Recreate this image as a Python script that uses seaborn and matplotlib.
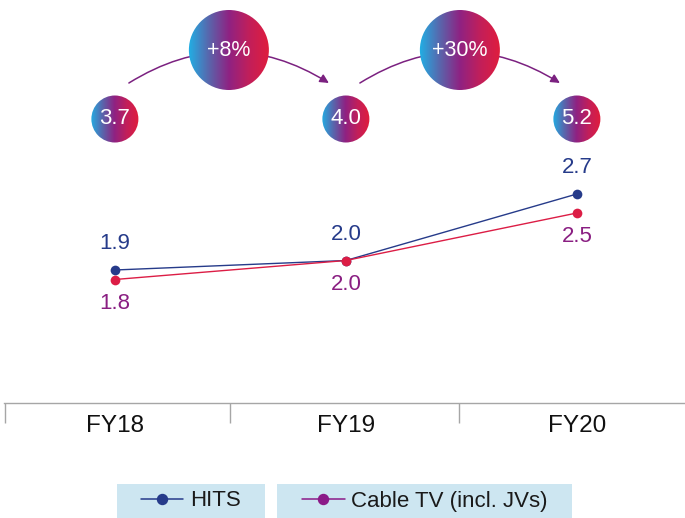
import matplotlib.pyplot as plt
import numpy as np
import pandas as pd
import seaborn as sns
from matplotlib.colors import LinearSegmentedColormap
from matplotlib.lines import Line2D
from matplotlib.patches import Circle, FancyArrowPatch, Rectangle

# values
years = ["FY18", "FY19", "FY20"]
hits = [1.9, 2.0, 2.7]
cable = [1.8, 2.0, 2.5]
totals = [3.7, 4.0, 5.2]
growth = ["+8%", "+30%"]

HITS_COLOR = "#263b8a"
CABLE_LINE = "#dc1d45"
CABLE_TEXT = "#8a1f82"
CABLE_LEGEND = "#8b1a88"
ARROW_COLOR = "#7b2180"
AXIS_GRAY = "#a6a6a6"

sns.set_style("white")
plt.rcParams["font.family"] = ["Liberation Sans", "DejaVu Sans"]

df = pd.DataFrame({
    "x": list(range(len(years))) * 2,
    "value": hits + cable,
    "series": ["HITS"] * len(years) + ["Cable TV (incl. JVs)"] * len(years),
})

W, H = 685, 518
fig = plt.figure(figsize=(W / 100, H / 100), dpi=100)
ax = fig.add_axes([4 / W, 115 / H, 681 / W, 403 / H])

sns.lineplot(data=df, x="x", y="value", hue="series",
             palette={"HITS": HITS_COLOR, "Cable TV (incl. JVs)": CABLE_LINE},
             marker="o", markersize=7, markeredgewidth=0, linewidth=1,
             legend=False, ax=ax)

ax.set_xlim(-0.48, -0.48 + 681 / 231)
ax.set_ylim(0.5, 0.5 + 403 / 95)

# category labels, separators between categories
ax.set_xticks(range(len(years)))
ax.set_xticklabels(years, fontsize=17.5, color="#111111")
ax.tick_params(axis="x", which="major", length=0, pad=9)
ax.set_xticks([-0.475, 0.5, 1.49], minor=True)
ax.tick_params(axis="x", which="minor", bottom=True, length=14.5, width=1,
               color=AXIS_GRAY, direction="out")
ax.set_yticks([])
ax.set_xlabel("")
ax.set_ylabel("")
for side in ["left", "right", "top"]:
    ax.spines[side].set_visible(False)
ax.spines["bottom"].set_color(AXIS_GRAY)
ax.spines["bottom"].set_linewidth(1)

for i, v in enumerate(hits):
    ax.annotate(f"{v:.1f}", (i, v), xytext=(0, 19), textcoords="offset points",
                ha="center", va="center", fontsize=16, color=HITS_COLOR)
for i, v in enumerate(cable):
    ax.annotate(f"{v:.1f}", (i, v), xytext=(0, -17), textcoords="offset points",
                ha="center", va="center", fontsize=16, color=CABLE_TEXT)

# overlay in pixel coordinates for the bubbles on top
ov = fig.add_axes([0, 0, 1, 1], zorder=3)
ov.axis("off")

cmap = LinearSegmentedColormap.from_list(
    "bubble", ["#1fb1e6", "#5867ad", "#8f2282", "#c21f5a", "#e11d3c"])
grad = np.tile(np.linspace(0, 1, 256), (64, 1))


def bubble(x, y, r, label, size):
    im = ov.imshow(grad, cmap=cmap, extent=[x - r - 1, x + r + 1, y + r + 1, y - r - 1],
                   aspect="auto", interpolation="bilinear", zorder=3)
    circ = Circle((x, y), r, transform=ov.transData, facecolor="none", edgecolor="none")
    ov.add_patch(circ)
    im.set_clip_path(circ)
    ov.text(x, y, label, ha="center", va="center", color="white", fontsize=size, zorder=4)


# bubble x positions follow the category positions of the line chart
cx = [ax.transData.transform((i, 0))[0] for i in range(len(years))]

for i, total in enumerate(totals):
    bubble(cx[i], 119, 23.5, f"{total:.1f}", 16)

for i in range(len(totals) - 1):
    x0, x1 = cx[i] + 14, cx[i + 1] - 17
    arr = FancyArrowPatch((x0, 83), (x1, 83), connectionstyle="arc3,rad=-0.31",
                          arrowstyle="-|>", mutation_scale=13, color=ARROW_COLOR,
                          lw=1.1, shrinkA=0, shrinkB=0, zorder=2)
    ov.add_patch(arr)
    bubble((x0 + x1) / 2, 50, 40, growth[i], 15.5)

ov.set_xlim(0, W)
ov.set_ylim(H, 0)

# legend: two light blue boxes
fig.add_artist(Rectangle((117 / W, 0), 148 / W, 34 / H, transform=fig.transFigure,
                         facecolor="#cde6f1", edgecolor="none", zorder=0))
fig.add_artist(Rectangle((277 / W, 0), 295 / W, 34 / H, transform=fig.transFigure,
                         facecolor="#cde6f1", edgecolor="none", zorder=0))
h1 = Line2D([], [], color=HITS_COLOR, marker="o", markersize=7.2, lw=1.1)
h2 = Line2D([], [], color=CABLE_LEGEND, marker="o", markersize=7.2, lw=1.1)
for h, label, xc in [(h1, "HITS", 191), (h2, "Cable TV (incl. JVs)", 425)]:
    fig.legend(handles=[h], labels=[label], loc="center",
               bbox_to_anchor=(xc / W, 1 - 501 / H), frameon=False, fontsize=16,
               handlelength=1.9, handletextpad=0.3, borderpad=0,
               labelcolor="#1a1a1a")

fig.savefig("out.png", dpi=100)
